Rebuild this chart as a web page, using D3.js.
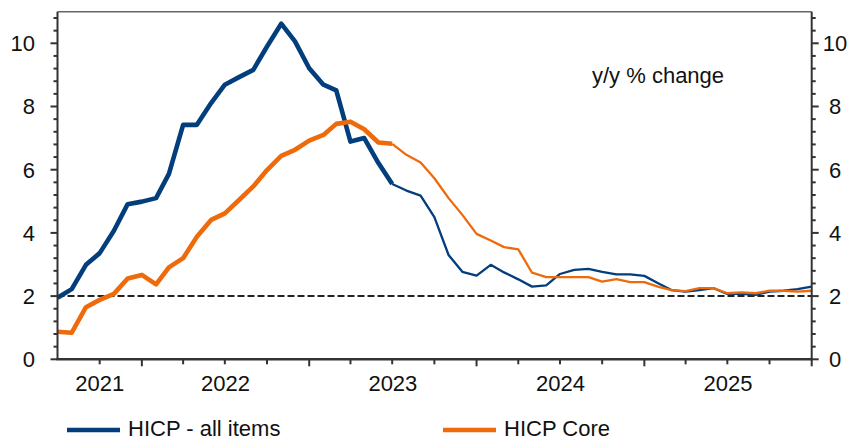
<!DOCTYPE html>
<html>
<head>
<meta charset="utf-8">
<script src="https://cdn.jsdelivr.net/npm/d3@7"></script>
<style>
  body { margin: 0; background: #fff; }
  svg text { font-family: "Liberation Sans", Arial, sans-serif; fill: #111; }
</style>
</head>
<body>
<div id="chart"></div>
<script>
const W = 854, H = 440;

// monthly observations, Jun 2021 .. Dec 2025
const months = d3.timeMonth.range(new Date(2021, 5, 1), new Date(2026, 0, 1));
const headline = [1.95, 2.22, 2.99, 3.36, 4.07, 4.91, 4.99, 5.10, 5.87, 7.42, 7.42, 8.11,
  8.69, 8.93, 9.16, 9.90, 10.62, 10.06, 9.21, 8.69, 8.51, 6.89, 7.00, 6.21,
  5.55, 5.34, 5.18, 4.50, 3.30, 2.77, 2.65, 2.99, 2.75, 2.53, 2.30, 2.34,
  2.70, 2.83, 2.86, 2.77, 2.69, 2.69, 2.64, 2.40, 2.19, 2.14, 2.19, 2.25,
  2.07, 2.07, 2.04, 2.14, 2.17, 2.22, 2.30];
const core = [0.87, 0.84, 1.65, 1.88, 2.07, 2.56, 2.67, 2.37, 2.91, 3.20, 3.88, 4.41,
  4.62, 5.04, 5.47, 5.99, 6.44, 6.63, 6.92, 7.10, 7.45, 7.52, 7.28, 6.86,
  6.82, 6.47, 6.23, 5.73, 5.10, 4.57, 3.97, 3.76, 3.55, 3.48, 2.74, 2.60,
  2.60, 2.60, 2.60, 2.46, 2.54, 2.44, 2.44, 2.29, 2.19, 2.16, 2.25, 2.25,
  2.09, 2.12, 2.09, 2.17, 2.17, 2.14, 2.17];
const thickUntil = 24; // index where the lines switch to thin
const yTicks = [0, 2, 4, 6, 8, 10];
const yearLabels = ["2021", "2022", "2023", "2024", "2025"];
const target = 2;

const series = [
  { name: "HICP - all items", values: headline, color: "#033e7c" },
  { name: "HICP Core", values: core, color: "#ee6a0b" }
];

const m = { left: 57.5, right: 811.7, top: 11.7, bottom: 359.3 };

const svg = d3.select("#chart").append("svg")
  .attr("width", W).attr("height", H)
  .attr("viewBox", "0 0 " + W + " " + H);

const x = d3.scaleTime()
  .domain([new Date(2021, 6, 1), new Date(2026, 0, 1)])
  .range([m.left, m.right]);
const y = d3.scaleLinear().domain([0, 11]).range([m.bottom, m.top]);

// points sit at the end of each month
const px = d => x(d3.timeMonth.offset(d, 1));

// frame
svg.append("line").attr("x1", m.left).attr("x2", m.right).attr("y1", m.top).attr("y2", m.top)
  .attr("stroke", "#666").attr("stroke-width", 1.5);

// target line
svg.append("line")
  .attr("x1", m.left).attr("x2", m.right)
  .attr("y1", y(target)).attr("y2", y(target))
  .attr("stroke", "#222").attr("stroke-width", 2)
  .attr("stroke-dasharray", "7,3");

// lines
const line = d3.line().x(d => px(d.date)).y(d => y(d.v));
series.forEach(s => {
  const pts = months.map((d, i) => ({ date: d, v: s.values[i] }));
  svg.append("path").datum(pts.slice(thickUntil))
    .attr("d", line).attr("fill", "none")
    .attr("stroke", s.color).attr("stroke-width", 2.3).attr("stroke-linejoin", "round");
  svg.append("path").datum(pts.slice(0, thickUntil + 1))
    .attr("d", line).attr("fill", "none")
    .attr("stroke", s.color).attr("stroke-width", 4.6).attr("stroke-linejoin", "round");
});

// y axes
const minorY = d3.range(0, 11, 0.4).filter(v => Math.abs(v / 2 - Math.round(v / 2)) > 1e-6);
function yAxis(g, side) {
  const dir = side === "left" ? -1 : 1;
  const x0 = side === "left" ? m.left : m.right;
  g.append("line").attr("x1", x0).attr("x2", x0).attr("y1", m.top).attr("y2", m.bottom)
    .attr("stroke", "#333").attr("stroke-width", 2);
  g.selectAll(".mn").data(minorY).enter().append("line")
    .attr("x1", x0).attr("x2", x0 + dir * 4)
    .attr("y1", d => y(d)).attr("y2", d => y(d))
    .attr("stroke", "#333").attr("stroke-width", 2);
  g.selectAll(".mj").data(yTicks).enter().append("line")
    .attr("x1", x0).attr("x2", x0 + dir * 7)
    .attr("y1", d => y(d)).attr("y2", d => y(d))
    .attr("stroke", "#333").attr("stroke-width", 2);
  g.selectAll("text").data(yTicks).enter().append("text")
    .attr("x", side === "left" ? 35 : 835)
    .attr("y", d => y(d))
    .attr("dy", "0.36em")
    .attr("text-anchor", side === "left" ? "end" : "middle")
    .style("font-size", "22px")
    .text(d => d);
}
svg.append("g").call(yAxis, "left");
svg.append("g").call(yAxis, "right");

// x axis
const gx = svg.append("g");
gx.append("line").attr("x1", m.left - 1).attr("x2", m.right + 1)
  .attr("y1", m.bottom).attr("y2", m.bottom)
  .attr("stroke", "#333").attr("stroke-width", 2.5);
const quarters = d3.timeMonth.every(3).range(new Date(2021, 7, 1), new Date(2026, 0, 2));
gx.selectAll(".q").data(quarters).enter().append("line")
  .attr("x1", d => x(d)).attr("x2", d => x(d))
  .attr("y1", m.bottom).attr("y2", d => m.bottom + (d.getMonth() === 0 ? 7 : 5))
  .attr("stroke", "#333").attr("stroke-width", 2);
gx.selectAll("text").data(yearLabels).enter().append("text")
  .attr("x", d => {
    const a = Math.max(x(new Date(+d, 0, 1)), m.left);
    const b = Math.min(x(new Date(+d + 1, 0, 1)), m.right);
    return (a + b) / 2;
  })
  .attr("y", 391)
  .attr("text-anchor", "middle")
  .style("font-size", "22px")
  .text(d => d);

// annotation
svg.append("text").attr("x", 592).attr("y", 83)
  .style("font-size", "22px").text("y/y % change");

// legend
const legendX = [67, 443];
const lg = svg.selectAll(".lg").data(series).enter().append("g")
  .attr("transform", (d, i) => "translate(" + legendX[i] + ",429)");
lg.append("line").attr("x1", 0).attr("x2", 53).attr("y1", 1).attr("y2", 1)
  .attr("stroke", d => d.color).attr("stroke-width", 4.5);
lg.append("text").attr("x", 61).attr("y", 0).attr("dy", "0.34em")
  .style("font-size", "22px").text(d => d.name);
</script>
</body>
</html>
